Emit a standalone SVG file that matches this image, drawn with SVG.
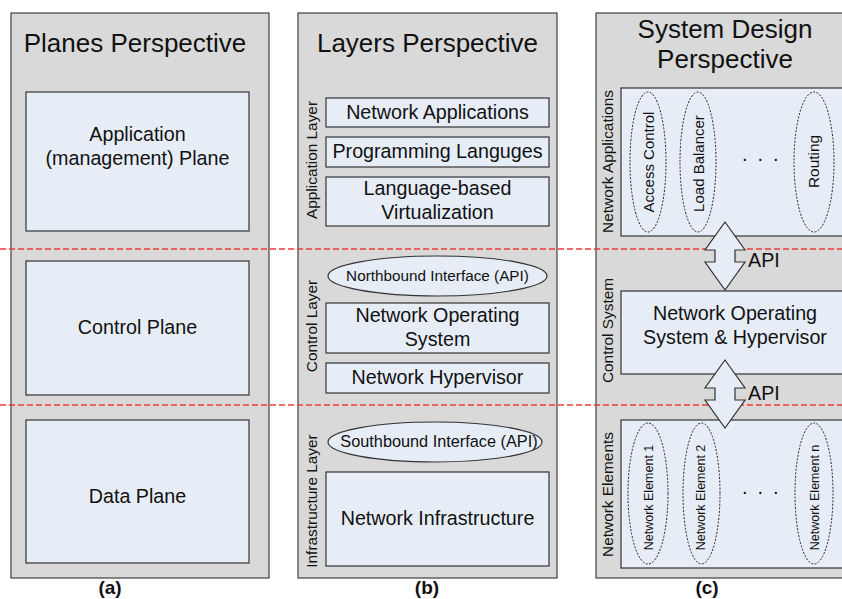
<svg xmlns="http://www.w3.org/2000/svg" width="842" height="599" viewBox="0 0 842 599">
<style>
  text { font-family: "Liberation Sans", Arial, sans-serif; fill: #111; }
  .panel { fill: #d9d9d9; stroke: #404040; stroke-width: 1.2; }
  .box { fill: #e7edf7; stroke: #333; stroke-width: 1.2; }
  .ell { fill: #e7edf7; stroke: #333; stroke-width: 1.2; }
  .dell { fill: none; stroke: #222; stroke-width: 1; stroke-dasharray: 2 1.5; }
  .title { font-size: 26px; text-anchor: middle; }
  .lbl { font-size: 19.7px; text-anchor: middle; }
  .rot { font-size: 15.4px; text-anchor: middle; }
  .sub { font-size: 19px; font-weight: bold; text-anchor: middle; }
  .sep { stroke: #f03a3a; stroke-width: 1.4; stroke-dasharray: 6 3; fill: none; }
  .arrow { fill: #e7edf7; stroke: #333; stroke-width: 1.2; stroke-linejoin: miter; }
  .dots { font-size: 20px; letter-spacing: 10px; }
</style>

<!-- Panel (a) -->
<g id="panel-a">
  <rect class="panel" x="11" y="13" width="258" height="565"/>
  <text class="title" x="135" y="52">Planes Perspective</text>
</g>
<g id="app-plane">
  <rect class="box" x="26" y="92" width="223" height="139"/>
  <text class="lbl" x="137.5" y="141">Application</text>
  <text class="lbl" x="137.5" y="165">(management) Plane</text>
</g>
<g id="control-plane">
  <rect class="box" x="26" y="261" width="223" height="134"/>
  <text class="lbl" x="137.5" y="334">Control Plane</text>
</g>
<g id="data-plane">
  <rect class="box" x="26" y="420" width="223" height="143"/>
  <text class="lbl" x="137.5" y="503">Data Plane</text>
</g>
<text class="sub" x="110" y="594">(a)</text>

<!-- Panel (b) -->
<g id="panel-b">
  <rect class="panel" x="298" y="13" width="259" height="565"/>
  <text class="title" x="427.5" y="52">Layers Perspective</text>
  <text class="rot" transform="translate(316.5,160) rotate(-90)">Application Layer</text>
  <text class="rot" transform="translate(316.5,326) rotate(-90)">Control Layer</text>
  <text class="rot" transform="translate(316.5,501) rotate(-90)">Infrastructure Layer</text>
</g>
<g id="net-apps">
  <rect class="box" x="326" y="98" width="223" height="29"/>
  <text class="lbl" x="437.5" y="119">Network Applications</text>
</g>
<g id="prog-lang">
  <rect class="box" x="326" y="137" width="223" height="30"/>
  <text class="lbl" x="437.5" y="158">Programming Languges</text>
</g>
<g id="lang-virt">
  <rect class="box" x="326" y="177" width="223" height="49"/>
  <text class="lbl" x="437.5" y="195">Language-based</text>
  <text class="lbl" x="437.5" y="219">Virtualization</text>
</g>
<g id="northbound">
  <ellipse class="ell" cx="437.5" cy="276" rx="109.5" ry="20"/>
  <text x="437.5" y="281" style="font-size:15.3px;text-anchor:middle">Northbound Interface (API)</text>
</g>
<g id="nos">
  <rect class="box" x="326" y="303" width="223" height="50"/>
  <text class="lbl" x="437.5" y="322">Network Operating</text>
  <text class="lbl" x="437.5" y="346">System</text>
</g>
<g id="hypervisor">
  <rect class="box" x="326" y="363" width="223" height="30"/>
  <text class="lbl" x="437.5" y="384">Network Hypervisor</text>
</g>
<g id="southbound">
  <ellipse class="ell" cx="435" cy="442" rx="107" ry="20"/>
  <text x="439" y="447" style="font-size:16.3px;text-anchor:middle">Southbound Interface (API)</text>
</g>
<g id="net-infra">
  <rect class="box" x="326" y="472" width="223" height="94"/>
  <text class="lbl" x="437.5" y="525">Network Infrastructure</text>
</g>
<text class="sub" x="427" y="594">(b)</text>

<!-- Panel (c) -->
<g id="panel-c">
  <rect class="panel" x="596" y="13" width="258" height="565"/>
  <text class="title" x="725" y="38">System Design</text>
  <text class="title" x="725" y="68">Perspective</text>
  <text class="rot" transform="translate(612.5,161.5) rotate(-90)">Network Applications</text>
  <text class="rot" transform="translate(612.5,330.5) rotate(-90)">Control System</text>
  <text class="rot" transform="translate(612.5,494.5) rotate(-90)">Network Elements</text>
</g>
<g id="c-net-apps">
  <rect class="box" x="621" y="88" width="223" height="148"/>
  <ellipse class="dell" cx="648" cy="162" rx="18" ry="70"/>
  <text style="font-size:15px;text-anchor:middle" transform="translate(653.5,162) rotate(-90)">Access Control</text>
  <ellipse class="dell" cx="698" cy="162" rx="18" ry="70"/>
  <text style="font-size:15px;text-anchor:middle" transform="translate(703.5,163.5) rotate(-90)">Load Balancer</text>
  <text class="dots" x="742" y="161">...</text>
  <ellipse class="dell" cx="814" cy="162" rx="20" ry="70"/>
  <text style="font-size:15.4px;text-anchor:middle" transform="translate(818.5,161.5) rotate(-90)">Routing</text>
</g>
<g id="c-control">
  <rect class="box" x="621" y="291" width="223" height="83"/>
  <text class="lbl" x="735" y="320">Network Operating</text>
  <text class="lbl" x="735" y="344">System &amp; Hypervisor</text>
</g>
<g id="c-elements">
  <rect class="box" x="621" y="420" width="223" height="148"/>
  <ellipse class="dell" cx="648" cy="493.5" rx="20" ry="70.5"/>
  <text style="font-size:12.5px;text-anchor:middle" transform="translate(652.5,497.5) rotate(-90)">Network Element 1</text>
  <ellipse class="dell" cx="701.5" cy="493.5" rx="18.5" ry="70.5"/>
  <text style="font-size:12.5px;text-anchor:middle" transform="translate(705,497.5) rotate(-90)">Network Element 2</text>
  <text class="dots" x="742" y="494">...</text>
  <ellipse class="dell" cx="814" cy="493.5" rx="19" ry="70.5"/>
  <text style="font-size:12.5px;text-anchor:middle" transform="translate(818.5,497.5) rotate(-90)">Network Element n</text>
</g>
<text class="sub" x="707" y="594">(c)</text>

<!-- Separators -->
<g id="separators">
  <line class="sep" x1="0" y1="249" x2="842" y2="249"/>
  <line class="sep" x1="0" y1="405" x2="842" y2="405"/>
</g>

<!-- Connectors -->
<g id="connectors">
  <path class="arrow" d="M725,222 L745,250 L735,250 L735,262 L745,262 L725,290 L705,262 L715,262 L715,250 L705,250 Z"/>
  <text x="748" y="267" style="font-size:19.7px">API</text>
  <path class="arrow" d="M725,360 L745,388 L735,388 L735,400 L745,400 L725,428 L705,400 L715,400 L715,388 L705,388 Z"/>
  <text x="748" y="400" style="font-size:19.7px">API</text>
</g>
</svg>
